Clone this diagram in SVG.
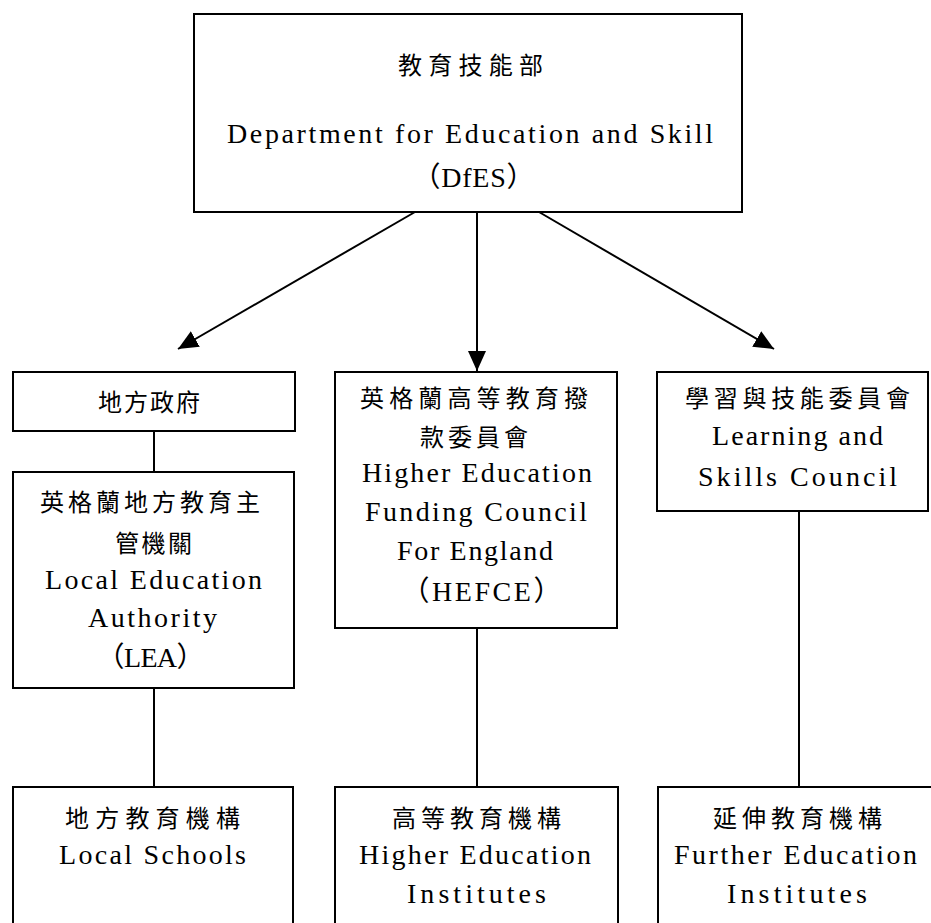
<svg xmlns="http://www.w3.org/2000/svg" width="931" height="923" viewBox="0 0 931 923">
<style>
.box{fill:#fff;stroke:#000;stroke-width:2}
.ln{fill:none;stroke:#000;stroke-width:2}
.t{font-family:"Liberation Serif","Noto Sans CJK TC",serif;font-size:28px;fill:#000;text-anchor:middle}
.c{font-family:"Noto Sans CJK TC","Noto Sans CJK SC",sans-serif;font-size:24px;fill:#000;text-anchor:middle}
</style>
<defs>
<marker id="ah" markerUnits="userSpaceOnUse" markerWidth="20" markerHeight="18" viewBox="0 0 20 18" refX="20" refY="9" orient="auto">
<path d="M0,0 L20,9 L0,18 z" fill="#000"/>
</marker>
</defs>
<rect width="931" height="923" fill="#fff"/>
<g id="connectors">
<line class="ln" x1="415" y1="212" x2="178" y2="349" marker-end="url(#ah)"/>
<line class="ln" x1="477" y1="212" x2="477" y2="371" marker-end="url(#ah)"/>
<line class="ln" x1="539" y1="212" x2="774" y2="349" marker-end="url(#ah)"/>
<line class="ln" x1="154" y1="431" x2="154" y2="472"/>
<line class="ln" x1="154" y1="688" x2="154" y2="787"/>
<line class="ln" x1="477" y1="628" x2="477" y2="787"/>
<line class="ln" x1="799" y1="511" x2="799" y2="787"/>
</g>
<g id="dfes">
<rect class="box" x="194" y="14" width="548" height="198"/>
<text class="c" x="470.5" y="74" textLength="145" lengthAdjust="spacing">教育技能部</text>
<text class="t" x="470" y="143" textLength="486" lengthAdjust="spacing">Department for Education and Skill</text>
<text class="t" x="473.5" y="187" textLength="122" lengthAdjust="spacing">（DfES）</text>
</g>
<g id="local-gov">
<rect class="box" x="13" y="372" width="282" height="59"/>
<text class="c" x="149" y="411" textLength="102" lengthAdjust="spacing">地方政府</text>
</g>
<g id="lea">
<rect class="box" x="13" y="472" width="281" height="216"/>
<text class="c" x="150" y="511" textLength="220" lengthAdjust="spacing">英格蘭地方教育主</text>
<text class="c" x="153.5" y="552" textLength="77" lengthAdjust="spacing">管機關</text>
<text class="t" x="153.5" y="589" textLength="217" lengthAdjust="spacing">Local Education</text>
<text class="t" x="152.5" y="627" textLength="129" lengthAdjust="spacing">Authority</text>
<text class="t" x="150.5" y="667" textLength="108" lengthAdjust="spacing">（LEA）</text>
</g>
<g id="hefce">
<rect class="box" x="335" y="372" width="282" height="256"/>
<text class="c" x="474" y="407" textLength="228" lengthAdjust="spacing">英格蘭高等教育撥</text>
<text class="c" x="474" y="446" textLength="108" lengthAdjust="spacing">款委員會</text>
<text class="t" x="477" y="482" textLength="230" lengthAdjust="spacing">Higher Education</text>
<text class="t" x="476" y="521" textLength="222" lengthAdjust="spacing">Funding Council</text>
<text class="t" x="475" y="560" textLength="156" lengthAdjust="spacing">For England</text>
<text class="t" x="481.5" y="601" textLength="160" lengthAdjust="spacing">（HEFCE）</text>
</g>
<g id="lsc">
<rect class="box" x="657" y="372" width="271" height="139"/>
<text class="c" x="797.5" y="407" textLength="225" lengthAdjust="spacing">學習與技能委員會</text>
<text class="t" x="797.5" y="445" textLength="171" lengthAdjust="spacing">Learning and</text>
<text class="t" x="797.5" y="486" textLength="199" lengthAdjust="spacing">Skills Council</text>
</g>
<g id="local-schools">
<rect class="box" x="13" y="787" width="280" height="160"/>
<text class="c" x="152.5" y="827" textLength="175" lengthAdjust="spacing">地方教育機構</text>
<text class="t" x="152.5" y="864" textLength="187" lengthAdjust="spacing">Local Schools</text>
</g>
<g id="higher-ed">
<rect class="box" x="335" y="787" width="283" height="160"/>
<text class="c" x="476.5" y="827" textLength="169" lengthAdjust="spacing">高等教育機構</text>
<text class="t" x="475" y="864" textLength="232" lengthAdjust="spacing">Higher Education</text>
<text class="t" x="476.5" y="903" textLength="139" lengthAdjust="spacing">Institutes</text>
</g>
<g id="further-ed">
<rect class="box" x="658" y="787" width="300" height="160"/>
<text class="c" x="797.5" y="827" textLength="169" lengthAdjust="spacing">延伸教育機構</text>
<text class="t" x="795.5" y="864" textLength="243" lengthAdjust="spacing">Further Education</text>
<text class="t" x="797" y="903" textLength="140" lengthAdjust="spacing">Institutes</text>
</g>
</svg>
